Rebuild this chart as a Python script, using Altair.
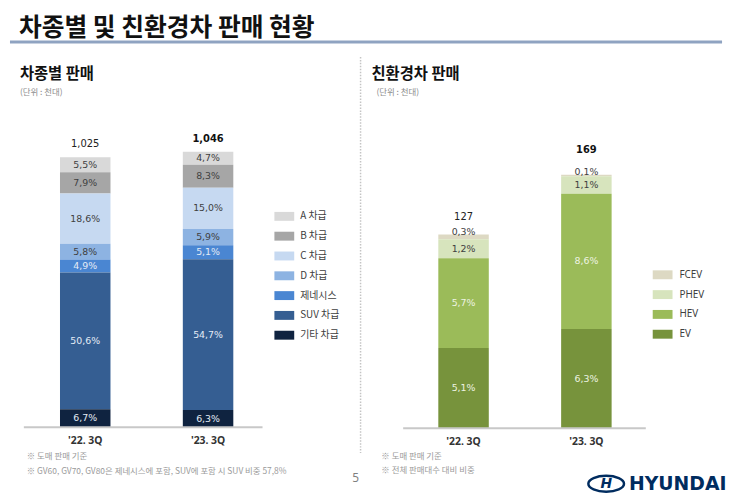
import altair as alt
import pandas as pd

# ---------------- data ----------------
PERIODS = ["'22. 3Q", "'23. 3Q"]

SEG_CATS = ["A 차급", "B 차급", "C 차급", "D 차급", "제네시스", "SUV 차급", "기타 차급"]
SEG_COLORS = ["#d9d9d9", "#a6a6a6", "#c6d9f1", "#8db3e2", "#4a86d2", "#355e92", "#0f2340"]
SEG_PCT_22 = [5.5, 7.9, 18.6, 5.8, 4.9, 50.6, 6.7]
SEG_PCT_23 = [4.7, 8.3, 15.0, 5.9, 5.1, 54.7, 6.3]
SEG_TOTALS = [1025, 1046]
SEG_TOTAL_LABELS = ["1,025", "1,046"]
SEG_LIGHT_LABELS = ["제네시스", "SUV 차급", "기타 차급"]

ECO_CATS = ["FCEV", "PHEV", "HEV", "EV"]
ECO_COLORS = ["#ddd9c3", "#d7e4bd", "#9bbb59", "#77933c"]
ECO_PCT_22 = [0.3, 1.2, 5.7, 5.1]
ECO_PCT_23 = [0.1, 1.1, 8.6, 6.3]
ECO_TOTALS = [127, 169]
ECO_TOTAL_LABELS = ["127", "169"]
ECO_LIGHT_LABELS = ["HEV", "EV"]

MAIN_TITLE = "차종별 및 친환경차 판매 현황"
LEFT_TITLE = "차종별 판매"
RIGHT_TITLE = "친환경차 판매"
UNIT = "(단위 : 천대)"
LEFT_NOTES = ["※ 도매 판매 기준", "※ GV60, GV70, GV80은 제네시스에 포함, SUV에 포함 시 SUV 비중 57,8%"]
RIGHT_NOTES = ["※ 도매 판매 기준", "※ 전체 판매대수 대비 비중"]

KR = "Noto Sans CJK KR"
NUM = "DejaVu Sans"


def fmt(p):
    return f"{p:.1f}%".replace(".", ",")


seg_rows = []
for period, pcts, tot in zip(PERIODS, [SEG_PCT_22, SEG_PCT_23], SEG_TOTALS):
    for i, (c, p) in enumerate(zip(SEG_CATS, pcts)):
        seg_rows.append(dict(period=period, cat=c, pct=p, value=tot * p / 100,
                             ord=len(SEG_CATS) - 1 - i, label=fmt(p)))
seg_df = pd.DataFrame(seg_rows)
seg_tot_df = pd.DataFrame({"period": PERIODS, "total": SEG_TOTALS, "label": SEG_TOTAL_LABELS})

eco_rows = []
for period, pcts in zip(PERIODS, [ECO_PCT_22, ECO_PCT_23]):
    for i, (c, p) in enumerate(zip(ECO_CATS, pcts)):
        eco_rows.append(dict(period=period, eco=c, value=p,
                             ord=len(ECO_CATS) - 1 - i, label=fmt(p)))
eco_df = pd.DataFrame(eco_rows)
eco_tot_df = pd.DataFrame({"period": PERIODS,
                           "top": [sum(ECO_PCT_22), sum(ECO_PCT_23)],
                           "label": ECO_TOTAL_LABELS})

one = pd.DataFrame({"a": [0]})
LEG_SYMBOL = "M-1,-0.45H1V0.45H-1Z"


def txt(s, x, y, size, color="#222222", weight="normal", align="left", font=KR,
        clip=False, style="normal"):
    return alt.Chart(pd.DataFrame({"t": [s]})).mark_text(
        align=align, baseline="middle", fontSize=size, color=color, fontWeight=weight,
        font=font, clip=clip, fontStyle=style
    ).encode(x=alt.value(x), y=alt.value(y), text="t:N")


# ---------------- left panel ----------------
xs_l = alt.Scale(domain=PERIODS, range=[50.5, 225.5], paddingInner=0.589, paddingOuter=0)
ys_l = alt.Scale(domain=[0, 1583], range=[421, 0], nice=False)

top_line = alt.Chart(one).mark_rule(color="#8fa3c1", strokeWidth=3).encode(
    x=alt.value(0), x2=alt.value(719), y=alt.value(32))

l_bars = alt.Chart(seg_df).mark_bar().encode(
    x=alt.X("period:N", scale=xs_l, axis=None),
    y=alt.Y("value:Q", stack="zero", scale=ys_l, axis=None),
    color=alt.Color("cat:N", scale=alt.Scale(domain=SEG_CATS, range=SEG_COLORS),
                    legend=alt.Legend(orient="none", legendX=267, legendY=198, title=None,
                                      symbolType=LEG_SYMBOL, symbolSize=400,
                                      symbolStrokeWidth=0, symbolOpacity=1,
                                      labelFont=KR, labelFontSize=10, labelColor="#404040",
                                      labelOffset=6, rowPadding=5, padding=0)),
    order=alt.Order("ord:Q", sort="ascending"),
)

l_labels = alt.Chart(seg_df).transform_stack(
    stack="value", groupby=["period"], as_=["v0", "v1"],
    sort=[alt.SortField("ord", order="ascending")]
).transform_calculate(mid="(datum.v0 + datum.v1) / 2").mark_text(
    font=NUM, fontSize=9.5, baseline="middle"
).encode(
    x=alt.X("period:N", scale=xs_l, axis=None),
    y=alt.Y("mid:Q", scale=ys_l, axis=None),
    text="label:N",
    color=alt.condition(alt.FieldOneOfPredicate(field="cat", oneOf=SEG_LIGHT_LABELS),
                        alt.value("#e4ecf6"), alt.value("#404040")),
)

l_tot_a = alt.Chart(seg_tot_df).transform_filter(alt.datum.period == PERIODS[0]).mark_text(
    font=NUM, fontSize=10, dy=-13, baseline="middle", color="#222222"
).encode(x=alt.X("period:N", scale=xs_l, axis=None),
         y=alt.Y("total:Q", scale=ys_l, axis=None), text="label:N")
l_tot_b = alt.Chart(seg_tot_df).transform_filter(alt.datum.period == PERIODS[1]).mark_text(
    font=NUM, fontSize=10, dy=-13, baseline="middle", color="#111111", fontWeight="bold"
).encode(x=alt.X("period:N", scale=xs_l, axis=None),
         y=alt.Y("total:Q", scale=ys_l, axis=None), text="label:N")

l_base = alt.Chart(one).mark_rule(color="#c8c8c8", strokeWidth=2).encode(
    y=alt.Y(datum=0, scale=ys_l, axis=None), x=alt.value(14), x2=alt.value(255))

l_xlab = alt.Chart(pd.DataFrame({"period": PERIODS})).mark_text(
    font="Noto Sans", fontSize=10.5, fontWeight="bold", color="#333333", baseline="middle"
).encode(x=alt.X("period:N", scale=xs_l, axis=None), y=alt.value(435), text="period:N")

left = alt.layer(
    top_line,
    txt(MAIN_TITLE, 9, 18, 25, color="#111111", weight="bold"),
    txt(LEFT_TITLE, 10, 64, 15.5, color="#111111", weight="bold"),
    txt(UNIT, 10, 82, 8.5, color="#8c8c8c"),
    l_bars, l_labels, l_tot_a, l_tot_b, l_base, l_xlab,
    txt(LEFT_NOTES[0], 17, 450, 8.5, color="#9a9a9a"),
    txt(LEFT_NOTES[1], 17, 465, 8.5, color="#9a9a9a"),
    txt("5", 349, 472, 12, color="#7f7f7f", align="center", font="Noto Sans"),
).properties(width=354, height=486)

# ---------------- right panel ----------------
xs_r = alt.Scale(domain=PERIODS, range=[78.5, 253.5], paddingInner=0.589, paddingOuter=0)
ys_r = alt.Scale(domain=[0, 26.54], range=[422, 0], nice=False)

sep = alt.Chart(one).mark_rule(color="#c4c4c4", strokeWidth=1.5, strokeDash=[1.5, 1.5]).encode(
    x=alt.value(0), y=alt.value(47), y2=alt.value(447))

r_bars = alt.Chart(eco_df).mark_bar().encode(
    x=alt.X("period:N", scale=xs_r, axis=None),
    y=alt.Y("value:Q", stack="zero", scale=ys_r, axis=None),
    color=alt.Color("eco:N", scale=alt.Scale(domain=ECO_CATS, range=ECO_COLORS),
                    legend=alt.Legend(orient="none", legendX=295, legendY=257, title=None,
                                      symbolType=LEG_SYMBOL, symbolSize=400,
                                      symbolStrokeWidth=0, symbolOpacity=1,
                                      labelFont="Noto Sans", labelFontSize=10,
                                      labelColor="#404040",
                                      labelOffset=7, rowPadding=5, padding=0)),
    order=alt.Order("ord:Q", sort="ascending"),
)

r_stack = alt.Chart(eco_df).transform_stack(
    stack="value", groupby=["period"], as_=["v0", "v1"],
    sort=[alt.SortField("ord", order="ascending")]
).transform_calculate(mid="(datum.v0 + datum.v1) / 2")

r_labels = r_stack.transform_filter(alt.datum.eco != "FCEV").mark_text(
    font=NUM, fontSize=9.5, baseline="middle"
).encode(
    x=alt.X("period:N", scale=xs_r, axis=None),
    y=alt.Y("mid:Q", scale=ys_r, axis=None),
    text="label:N",
    color=alt.condition(alt.FieldOneOfPredicate(field="eco", oneOf=ECO_LIGHT_LABELS),
                        alt.value("#eef3e2"), alt.value("#404040")),
)
r_top_labels = r_stack.transform_filter(alt.datum.eco == "FCEV").mark_text(
    font=NUM, fontSize=9.5, baseline="middle", dy=-3, color="#404040"
).encode(
    x=alt.X("period:N", scale=xs_r, axis=None),
    y=alt.Y("v1:Q", scale=ys_r, axis=None),
    text="label:N",
)

r_tot_a = alt.Chart(eco_tot_df).transform_filter(alt.datum.period == PERIODS[0]).mark_text(
    font=NUM, fontSize=10, dy=-18, baseline="middle", color="#222222"
).encode(x=alt.X("period:N", scale=xs_r, axis=None),
         y=alt.Y("top:Q", scale=ys_r, axis=None), text="label:N")
r_tot_b = alt.Chart(eco_tot_df).transform_filter(alt.datum.period == PERIODS[1]).mark_text(
    font=NUM, fontSize=10, dy=-25, baseline="middle", color="#111111", fontWeight="bold"
).encode(x=alt.X("period:N", scale=xs_r, axis=None),
         y=alt.Y("top:Q", scale=ys_r, axis=None), text="label:N")

r_base = alt.Chart(one).mark_rule(color="#c8c8c8", strokeWidth=2).encode(
    y=alt.Y(datum=0, scale=ys_r, axis=None), x=alt.value(43), x2=alt.value(288))

r_xlab = alt.Chart(pd.DataFrame({"period": PERIODS})).mark_text(
    font="Noto Sans", fontSize=10.5, fontWeight="bold", color="#333333", baseline="middle"
).encode(x=alt.X("period:N", scale=xs_r, axis=None), y=alt.value(436), text="period:N")

logo_ellipse = alt.Chart(one).mark_point(
    shape="M-1,0A1,0.45,0,1,1,1,0A1,0.45,0,1,1,-1,0Z", size=1296, filled=False,
    stroke="#002c5f", strokeWidth=2.5, opacity=1
).encode(x=alt.value(248), y=alt.value(478))

right = alt.layer(
    sep,
    txt(RIGHT_TITLE, 11, 64, 15.5, color="#111111", weight="bold"),
    txt(UNIT, 16, 82, 8.5, color="#8c8c8c"),
    r_bars, r_labels, r_top_labels, r_tot_a, r_tot_b, r_base, r_xlab,
    txt(RIGHT_NOTES[0], 21, 450, 8.5, color="#9a9a9a"),
    txt(RIGHT_NOTES[1], 21, 464, 8.5, color="#9a9a9a"),
    logo_ellipse,
    txt("H", 248, 478, 14, color="#002c5f", weight="bold", align="center", font=NUM,
        style="italic"),
    txt("HYUNDAI", 271, 478, 19, color="#002c5f", weight="bold", font=NUM),
).properties(width=365, height=486)

chart = alt.hconcat(left, right, spacing=0, bounds="flush").resolve_scale(
    x="independent", y="independent", color="independent"
).resolve_legend(color="independent").properties(padding=0).configure_view(stroke=None)

chart.save("out.html", embed_options={"renderer": "svg", "actions": False})
